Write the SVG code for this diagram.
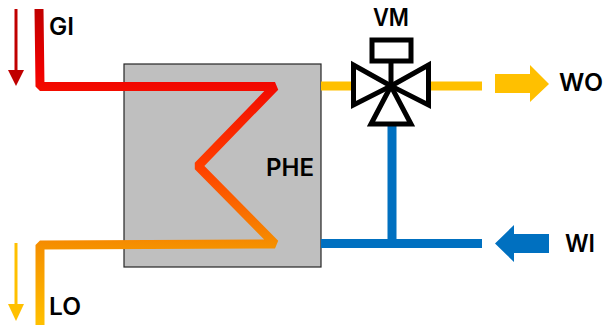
<svg xmlns="http://www.w3.org/2000/svg" width="603" height="325" viewBox="0 0 603 325">
<style>
text{font-family:"Inter","Open Sans","Liberation Sans",sans-serif;font-weight:600;font-size:24px;fill:#000}
.valve{fill:#fff;stroke:#000;stroke-width:5;stroke-linejoin:miter}
</style>
<defs>
<linearGradient id="hot" gradientUnits="userSpaceOnUse" x1="0" y1="9" x2="0" y2="325">
<stop offset="0" stop-color="#c00000"/>
<stop offset="0.2" stop-color="#f00000"/>
<stop offset="0.5" stop-color="#ff4000"/>
<stop offset="0.75" stop-color="#f59000"/>
<stop offset="1" stop-color="#ffc000"/>
</linearGradient>
</defs>
<rect width="603" height="325" fill="#fff"/>
<g id="PHE"><rect x="124" y="64" width="197" height="203" fill="#bfbfbf" stroke="#262626" stroke-width="1.2"/><text x="266" y="176" textLength="48" lengthAdjust="spacingAndGlyphs">PHE</text></g>
<g id="connectors">
<path d="M321 86H351M431 86H482" fill="none" stroke="#ffc000" stroke-width="9"/>
<path d="M392 124V243.500M321 243.500H482" fill="none" stroke="#0070c0" stroke-width="9"/>
<path d="M39 9L40 86.500H275L198 166L275 244L40 245V325" fill="none" stroke="url(#hot)" stroke-width="9" stroke-linejoin="bevel"/>
</g>
<g id="VM">
<rect class="valve" x="372" y="40" width="39" height="21" stroke-width="6"/>
<path d="M391 62V86" stroke="#000" stroke-width="5" fill="none"/>
<path class="valve" d="M353.500 65V105L391 86Z"/>
<path class="valve" d="M428.500 65V105L391 86Z"/>
<path class="valve" d="M391 86L371 124H411Z"/>
<text x="373" y="26" textLength="36" lengthAdjust="spacingAndGlyphs">VM</text>
</g>
<g id="GI"><path d="M16 9V70" stroke="#c00000" stroke-width="3"/><path d="M8 70H24L16 86Z" fill="#c00000"/><text x="49" y="35" textLength="25" lengthAdjust="spacingAndGlyphs">GI</text></g>
<g id="LO"><path d="M16 243V304" stroke="#ffc000" stroke-width="3"/><path d="M8 304H24L16 321Z" fill="#ffc000"/><text x="49" y="315" textLength="32" lengthAdjust="spacingAndGlyphs">LO</text></g>
<g id="WO"><path d="M495 74H530V65L549 84L530 102V93H495Z" fill="#ffc000"/><text x="559" y="91" textLength="44" lengthAdjust="spacingAndGlyphs">WO</text></g>
<g id="WI"><path d="M549 234H514V225L495 243.500L514 262V253H549Z" fill="#0070c0"/><text x="565" y="252" textLength="30" lengthAdjust="spacingAndGlyphs">WI</text></g>
</svg>
